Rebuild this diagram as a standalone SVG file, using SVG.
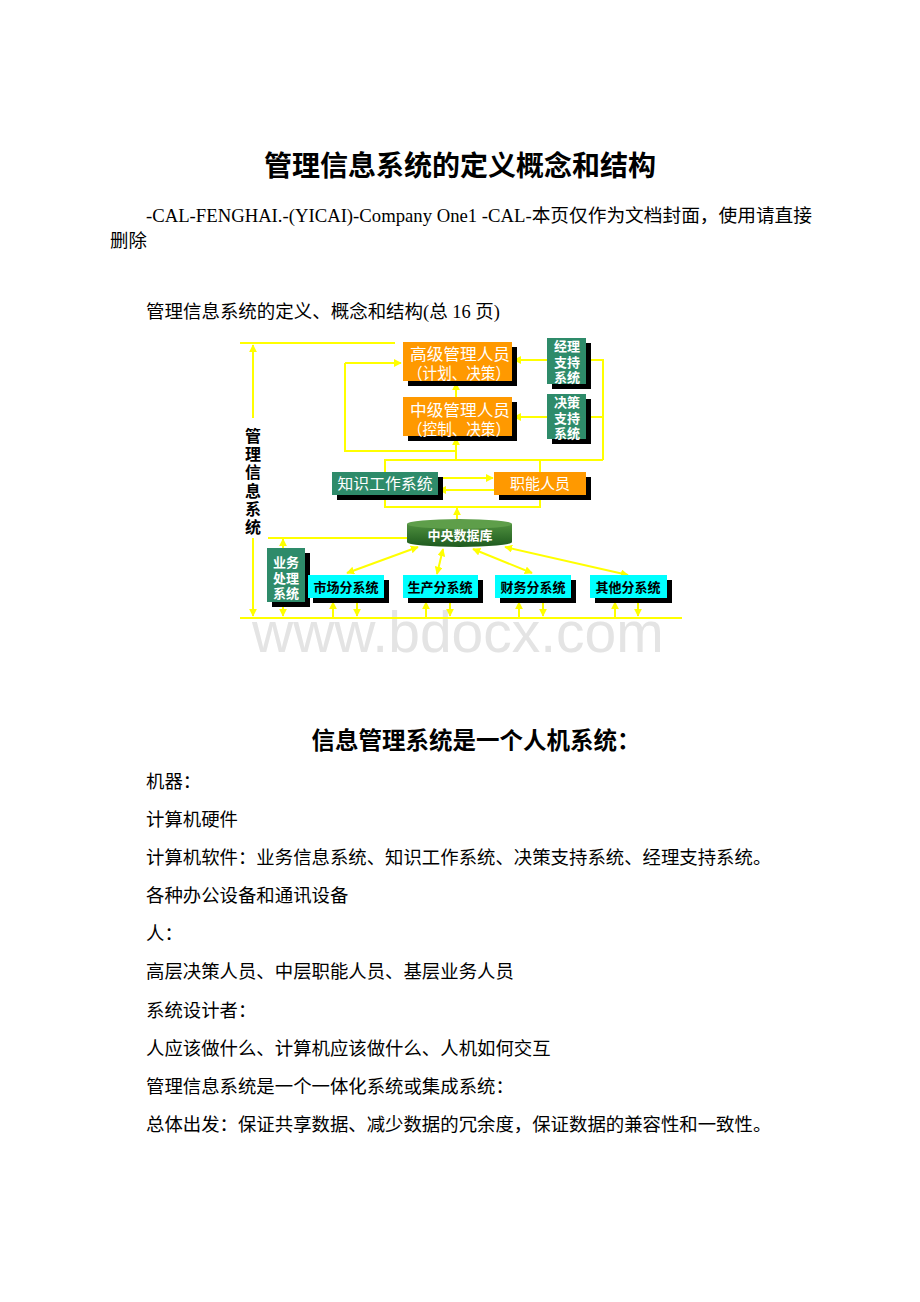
<svg xmlns="http://www.w3.org/2000/svg" width="920" height="1302" viewBox="0 0 920 1302">
<defs>
<marker id="ah" viewBox="0 0 10 10" refX="9" refY="5" markerWidth="4" markerHeight="4" orient="auto-start-reverse"><path d="M0,0 L10,5 L0,10 z" fill="#FFFF00"/></marker>
<linearGradient id="db" x1="0" y1="0" x2="0" y2="1"><stop offset="0" stop-color="#4E8F3E"/><stop offset="1" stop-color="#1E5A1E"/></linearGradient>
<style>
.doc{font-family:"Liberation Serif","Noto Sans CJK SC",serif;font-size:18.4px;fill:#000}
.ttl{font-family:"Noto Sans CJK SC",sans-serif;font-weight:700;fill:#000;text-anchor:middle}
.ln{fill:none;stroke:#FFFF00;stroke-width:2}
.arr{fill:none;stroke:#FFFF00;stroke-width:2;marker-end:url(#ah)}
.dbl{fill:none;stroke:#FFFF00;stroke-width:2;marker-start:url(#ah);marker-end:url(#ah)}
.sh{fill:#000}
.or{fill:#FF9900}
.gr{fill:#2E8B6A}
.cy{fill:#00FFFF}
.wt{font-family:"Liberation Sans","Noto Sans CJK SC",sans-serif;fill:#fff;text-anchor:middle}
.bk{font-family:"Liberation Sans","Noto Sans CJK SC",sans-serif;fill:#000;font-weight:700;font-size:13px;text-anchor:middle}
.vl{font-family:"Liberation Sans","Noto Sans CJK SC",sans-serif;font-weight:700;font-size:16px;fill:#000;text-anchor:middle}
</style>
</defs>
<rect width="920" height="1302" fill="#fff"/>

<g id="header">
<text class="ttl" x="460" y="176" font-size="28">管理信息系统的定义概念和结构</text>
<text class="doc" x="146" y="222" textLength="666" lengthAdjust="spacingAndGlyphs">-CAL-FENGHAI.-(YICAI)-Company One1 -CAL-本页仅作为文档封面，使用请直接</text>
<text class="doc" x="110" y="247">删除</text>
<text class="doc" x="146" y="318" textLength="354" lengthAdjust="spacingAndGlyphs">管理信息系统的定义、概念和结构(总 16 页)</text>
</g>

<text x="252" y="652" font-family="Liberation Sans, Arial, sans-serif" font-size="57" fill="#E4E4E4">www.bdocx.com</text>

<g id="connectors">
<path class="ln" d="M240,343 H395"/>
<path class="arr" d="M253,418 V345"/>
<path class="arr" d="M253,538 V616"/>
<path class="ln" d="M240,618 H682"/>
<path class="arr" d="M456,397 V383"/>
<path class="ln" d="M456,451 H345 V363"/>
<path class="arr" d="M345,363 H401"/>
<path class="arr" d="M456,460 V438"/>
<path class="ln" d="M385,472 V460 H603"/>
<path class="ln" d="M540,472 V460"/>
<path class="ln" d="M588,360 H603 V460"/>
<path class="ln" d="M588,417 H603"/>
<path class="arr" d="M560,360 H514"/>
<path class="arr" d="M560,417 H514"/>
<path class="arr" d="M438,478 H493"/>
<path class="arr" d="M494,490 H439"/>
<path class="ln" d="M385,495 V507 H540 V495"/>
<path class="arr" d="M457,520 V508"/>
<path class="ln" d="M410,538 H268"/>
<path class="arr" d="M283,548 V539"/>
<path class="arr" d="M283,602 V616"/>
<path class="arr" d="M333,618 V602"/>
<path class="arr" d="M357,602 V616"/>
<path class="arr" d="M426,618 V602"/>
<path class="arr" d="M450,602 V616"/>
<path class="arr" d="M519,618 V602"/>
<path class="arr" d="M543,602 V616"/>
<path class="arr" d="M615,618 V602"/>
<path class="arr" d="M638,602 V616"/>
<path class="dbl" d="M418,547 L347,573"/>
<path class="dbl" d="M443,549 L437,574"/>
<path class="dbl" d="M473,549 L532,573"/>
<path class="dbl" d="M505,547 L628,575"/>
</g>

<g id="mis-label">
<text class="vl" x="253" y="442">管</text>
<text class="vl" x="253" y="460.2">理</text>
<text class="vl" x="253" y="478.4">信</text>
<text class="vl" x="253" y="496.6">息</text>
<text class="vl" x="253" y="514.8">系</text>
<text class="vl" x="253" y="533">统</text>
</g>

<g id="senior-mgr">
<rect class="sh" x="408" y="347" width="109" height="39"/>
<rect class="or" x="403" y="342" width="109" height="39"/>
<text class="wt" x="460" y="360" font-size="16" textLength="100" lengthAdjust="spacingAndGlyphs">高级管理人员</text>
<text class="wt" x="459" y="379" font-size="16" textLength="102" lengthAdjust="spacingAndGlyphs">（计划、决策）</text>
</g>

<g id="middle-mgr">
<rect class="sh" x="408" y="402" width="109" height="39"/>
<rect class="or" x="403" y="397" width="109" height="39"/>
<text class="wt" x="460" y="416" font-size="16" textLength="100" lengthAdjust="spacingAndGlyphs">中级管理人员</text>
<text class="wt" x="459" y="435" font-size="16" textLength="102" lengthAdjust="spacingAndGlyphs">（控制、决策）</text>
</g>

<g id="ess">
<rect class="sh" x="552" y="343" width="39" height="46"/>
<rect class="gr" x="547" y="338" width="39" height="46"/>
<text class="wt" font-size="13" font-weight="700" x="567" y="351">经理</text>
<text class="wt" font-size="13" font-weight="700" x="567" y="366.5">支持</text>
<text class="wt" font-size="13" font-weight="700" x="567" y="382">系统</text>
</g>

<g id="dss">
<rect class="sh" x="552" y="399" width="39" height="45"/>
<rect class="gr" x="547" y="394" width="39" height="45"/>
<text class="wt" font-size="13" font-weight="700" x="567" y="407">决策</text>
<text class="wt" font-size="13" font-weight="700" x="567" y="422.5">支持</text>
<text class="wt" font-size="13" font-weight="700" x="567" y="438">系统</text>
</g>

<g id="kws">
<rect class="sh" x="337" y="477" width="106" height="23"/>
<rect class="gr" x="332" y="472" width="106" height="23"/>
<text class="wt" font-size="15" x="385" y="489" textLength="95" lengthAdjust="spacingAndGlyphs">知识工作系统</text>
</g>

<g id="staff">
<rect class="sh" x="499" y="477" width="92" height="23"/>
<rect class="or" x="494" y="472" width="92" height="23"/>
<text class="wt" font-size="15" x="540" y="489" textLength="60" lengthAdjust="spacingAndGlyphs">职能人员</text>
</g>

<g id="central-db">
<path d="M407,524 V542 A52.5,5 0 0 0 512,542 V524 Z" fill="url(#db)"/>
<ellipse cx="459.5" cy="524" rx="52.5" ry="5" fill="#5E9E4A"/>
<text class="wt" font-size="13" font-weight="700" x="460" y="540">中央数据库</text>
</g>

<g id="tps">
<rect class="sh" x="272" y="553" width="38" height="54"/>
<rect class="gr" x="267" y="548" width="38" height="54"/>
<text class="wt" font-size="13" font-weight="700" x="286" y="567">业务</text>
<text class="wt" font-size="13" font-weight="700" x="286" y="582.5">处理</text>
<text class="wt" font-size="13" font-weight="700" x="286" y="598">系统</text>
</g>

<g id="market">
<rect class="sh" x="313" y="580" width="76" height="23"/>
<rect class="cy" x="308" y="575" width="76" height="23"/>
<text class="bk" x="346" y="592">市场分系统</text>
</g>
<g id="production">
<rect class="sh" x="408" y="580" width="75" height="23"/>
<rect class="cy" x="403" y="575" width="75" height="23"/>
<text class="bk" x="440" y="592">生产分系统</text>
</g>
<g id="finance">
<rect class="sh" x="500" y="580" width="76" height="23"/>
<rect class="cy" x="495" y="575" width="76" height="23"/>
<text class="bk" x="533" y="592">财务分系统</text>
</g>
<g id="other">
<rect class="sh" x="595" y="580" width="77" height="23"/>
<rect class="cy" x="590" y="575" width="77" height="23"/>
<text class="bk" x="628" y="592">其他分系统</text>
</g>

<g id="body">
<text class="ttl" x="476" y="749" font-size="23.5">信息管理系统是一个人机系统：</text>
<text class="doc" x="146" y="788">机器：</text>
<text class="doc" x="146" y="826">计算机硬件</text>
<text class="doc" x="146" y="864">计算机软件：业务信息系统、知识工作系统、决策支持系统、经理支持系统。</text>
<text class="doc" x="146" y="902">各种办公设备和通讯设备</text>
<text class="doc" x="146" y="940">人：</text>
<text class="doc" x="146" y="978">高层决策人员、中层职能人员、基层业务人员</text>
<text class="doc" x="146" y="1017">系统设计者：</text>
<text class="doc" x="146" y="1055">人应该做什么、计算机应该做什么、人机如何交互</text>
<text class="doc" x="146" y="1093">管理信息系统是一个一体化系统或集成系统：</text>
<text class="doc" x="146" y="1131">总体出发：保证共享数据、减少数据的冗余度，保证数据的兼容性和一致性。</text>
</g>
</svg>
